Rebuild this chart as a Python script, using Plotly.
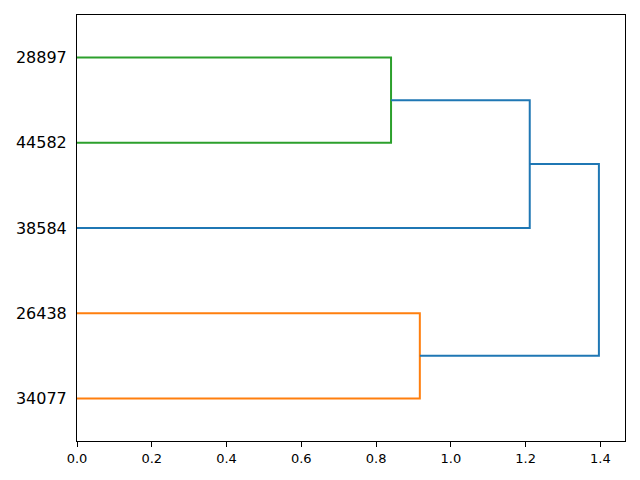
import plotly.graph_objects as go

# Leaf labels in display order (bottom to top)
leaf_labels = ["34077", "26438", "38584", "44582", "28897"]

# Merges: (child_a, child_b, distance); ids < 5 are leaves, 5+i is merge i
merge_a = [3, 0, 2, 6]
merge_b = [4, 1, 5, 7]
merge_dist = [0.84, 0.917, 1.211, 1.396]

# Colour group of each merge
merge_group = ["C2", "C1", "C0", "C0"]
palette = {"C0": "#1f77b4", "C1": "#ff7f0e", "C2": "#2ca02c"}

n = len(leaf_labels)
pos = {i: 5 + 10 * i for i in range(n)}
hgt = {i: 0.0 for i in range(n)}

fig = go.Figure()
for k, (a, b, d) in enumerate(zip(merge_a, merge_b, merge_dist)):
    ya, yb = pos[a], pos[b]
    xs = [hgt[a], d, d, hgt[b]]
    ys = [ya, ya, yb, yb]
    fig.add_trace(go.Scatter(x=xs, y=ys, mode="lines",
                             line=dict(color=palette[merge_group[k]], width=2),
                             hoverinfo="skip", showlegend=False))
    pos[n + k] = (ya + yb) / 2
    hgt[n + k] = d

xmax = max(merge_dist) * 1.05
fig.update_layout(
    width=640, height=480,
    margin=dict(l=77, r=15, t=15, b=39),
    plot_bgcolor="white", paper_bgcolor="white",
    font=dict(family="DejaVu Sans", color="black"),
    showlegend=False,
)
fig.update_xaxes(range=[0, xmax], tickvals=[0, 0.2, 0.4, 0.6, 0.8, 1.0, 1.2, 1.4],
                 tickformat=".1f", ticks="outside", ticklen=5, tickcolor="black",
                 showline=True, linecolor="black", linewidth=1, mirror=True,
                 showgrid=False, zeroline=False, tickfont=dict(size=13))
fig.update_yaxes(range=[0, 10 * n], tickvals=[pos[i] for i in range(n)],
                 ticktext=leaf_labels, ticks="", showline=True, linecolor="black",
                 linewidth=1, mirror=True, showgrid=False, zeroline=False,
                 tickfont=dict(size=16), ticklabelstandoff=6)
fig.write_html("out.html", config={"displayModeBar": False},
               post_script="document.body.style.margin='0';document.body.style.overflow='hidden';")
